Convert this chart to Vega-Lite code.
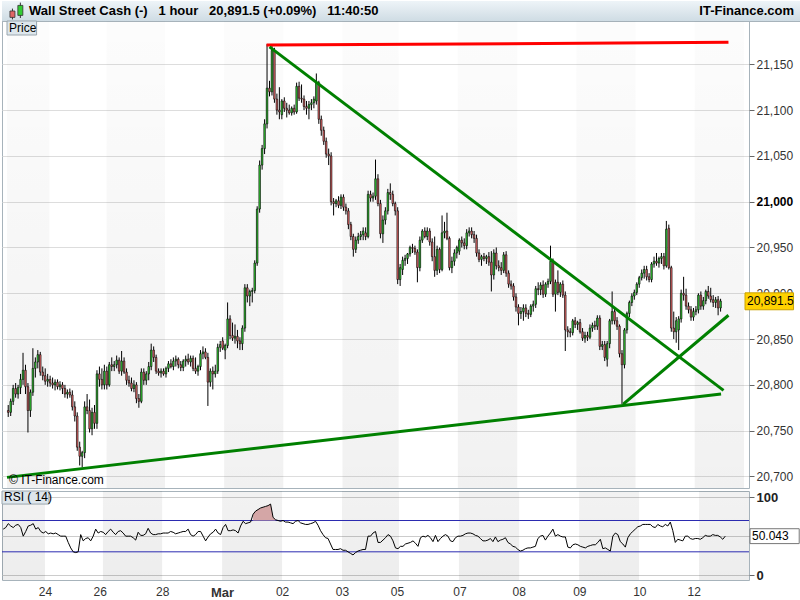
{
"$schema": "https://vega.github.io/schema/vega-lite/v6.json",
"padding": 0,
"background": "#ffffff",
"spacing": 0,
"bounds": "flush",
"config": {
 "font": "Liberation Sans",
 "view": {"stroke": "#a7b3bb", "strokeWidth": 1},
 "axis": {"labelFont": "Liberation Sans", "labelFontSize": 12, "labelColor": "#333333", "domain": false, "tickColor": "#666666", "gridColor": "#dddddd", "title": null}
},
"datasets": {
 "bands": [
  {"s": -0.5, "e": 16.7}, {"s": 39.9, "e": 63.6}, {"s": 87.6, "e": 111.6}, {"s": 135.6, "e": 158.4},
  {"s": 182.4, "e": 206.5}, {"s": 230.5, "e": 254.5}, {"s": 278.5, "e": 298.5}
 ],
 "lines": [
  {"k": "r", "a": 104.8, "pa": 21171, "b": 292.2, "pb": 21174},
  {"k": "g", "a": 106, "pa": 21169, "b": 290.2, "pb": 20794},
  {"k": "g", "a": -0.5, "pa": 20699, "b": 289.2, "pb": 20790},
  {"k": "g", "a": 249.5, "pa": 20779, "b": 292.2, "pb": 20876}
 ],
 "icon": [
  {"x": 0.0069, "lo": 0.08, "hi": 0.62, "bo": 0.18, "bc": 0.5, "up": false},
  {"x": 0.0169, "lo": 0.15, "hi": 0.92, "bo": 0.28, "bc": 0.78, "up": true}
 ],
 "k": [
{"i":0,"o":20772,"h":20778,"l":20765,"c":20770,"r":59},
{"i":1,"o":20770,"h":20785,"l":20766,"c":20782,"r":61},
{"i":2,"o":20782,"h":20800,"l":20778,"c":20796,"r":66},
{"i":3,"o":20796,"h":20802,"l":20786,"c":20790,"r":63},
{"i":4,"o":20790,"h":20800,"l":20785,"c":20797,"r":61},
{"i":5,"o":20797,"h":20812,"l":20790,"c":20806,"r":64},
{"i":6,"o":20806,"h":20835,"l":20800,"c":20816,"r":65},
{"i":7,"o":20816,"h":20822,"l":20790,"c":20798,"r":61},
{"i":8,"o":20798,"h":20802,"l":20748,"c":20772,"r":50},
{"i":9,"o":20772,"h":20795,"l":20765,"c":20792,"r":56},
{"i":10,"o":20792,"h":20840,"l":20788,"c":20818,"r":63},
{"i":11,"o":20818,"h":20830,"l":20808,"c":20825,"r":64},
{"i":12,"o":20825,"h":20838,"l":20818,"c":20833,"r":66},
{"i":13,"o":20833,"h":20836,"l":20810,"c":20814,"r":59},
{"i":14,"o":20814,"h":20820,"l":20805,"c":20810,"r":61},
{"i":15,"o":20810,"h":20818,"l":20800,"c":20804,"r":56},
{"i":16,"o":20804,"h":20812,"l":20798,"c":20806,"r":54},
{"i":17,"o":20806,"h":20810,"l":20798,"c":20802,"r":56},
{"i":18,"o":20802,"h":20808,"l":20796,"c":20800,"r":53},
{"i":19,"o":20800,"h":20806,"l":20794,"c":20803,"r":54},
{"i":20,"o":20803,"h":20806,"l":20795,"c":20798,"r":53},
{"i":21,"o":20798,"h":20804,"l":20794,"c":20800,"r":54},
{"i":22,"o":20800,"h":20803,"l":20790,"c":20796,"r":52},
{"i":23,"o":20796,"h":20800,"l":20786,"c":20790,"r":50},
{"i":24,"o":20790,"h":20795,"l":20785,"c":20792,"r":50},
{"i":25,"o":20792,"h":20796,"l":20786,"c":20789,"r":50},
{"i":26,"o":20789,"h":20794,"l":20772,"c":20776,"r":42},
{"i":27,"o":20776,"h":20782,"l":20760,"c":20766,"r":35},
{"i":28,"o":20766,"h":20770,"l":20728,"c":20732,"r":30},
{"i":29,"o":20732,"h":20738,"l":20712,"c":20722,"r":29},
{"i":30,"o":20722,"h":20728,"l":20710,"c":20726,"r":30},
{"i":31,"o":20726,"h":20782,"l":20720,"c":20776,"r":52},
{"i":32,"o":20776,"h":20790,"l":20768,"c":20772,"r":44},
{"i":33,"o":20772,"h":20784,"l":20748,"c":20752,"r":47},
{"i":34,"o":20752,"h":20775,"l":20745,"c":20770,"r":48},
{"i":35,"o":20770,"h":20778,"l":20752,"c":20758,"r":44},
{"i":36,"o":20758,"h":20816,"l":20752,"c":20812,"r":50},
{"i":37,"o":20812,"h":20820,"l":20798,"c":20806,"r":59},
{"i":38,"o":20806,"h":20818,"l":20795,"c":20800,"r":54},
{"i":39,"o":20800,"h":20822,"l":20795,"c":20815,"r":56},
{"i":40,"o":20815,"h":20820,"l":20795,"c":20800,"r":55},
{"i":41,"o":20800,"h":20825,"l":20798,"c":20822,"r":52},
{"i":42,"o":20822,"h":20830,"l":20815,"c":20820,"r":56},
{"i":43,"o":20820,"h":20826,"l":20815,"c":20822,"r":59},
{"i":44,"o":20822,"h":20832,"l":20818,"c":20827,"r":55},
{"i":45,"o":20827,"h":20830,"l":20812,"c":20815,"r":52},
{"i":46,"o":20815,"h":20837,"l":20810,"c":20826,"r":56},
{"i":47,"o":20826,"h":20830,"l":20812,"c":20814,"r":57},
{"i":48,"o":20814,"h":20818,"l":20800,"c":20805,"r":54},
{"i":49,"o":20805,"h":20810,"l":20798,"c":20802,"r":50},
{"i":50,"o":20802,"h":20808,"l":20793,"c":20796,"r":50},
{"i":51,"o":20796,"h":20805,"l":20792,"c":20800,"r":50},
{"i":52,"o":20800,"h":20803,"l":20780,"c":20785,"r":48},
{"i":53,"o":20785,"h":20790,"l":20775,"c":20782,"r":45},
{"i":54,"o":20782,"h":20818,"l":20780,"c":20814,"r":55},
{"i":55,"o":20814,"h":20818,"l":20800,"c":20805,"r":51},
{"i":56,"o":20805,"h":20815,"l":20800,"c":20812,"r":51},
{"i":57,"o":20812,"h":20825,"l":20805,"c":20820,"r":53},
{"i":58,"o":20820,"h":20845,"l":20816,"c":20838,"r":60},
{"i":59,"o":20838,"h":20842,"l":20825,"c":20830,"r":54},
{"i":60,"o":20830,"h":20833,"l":20812,"c":20815,"r":52},
{"i":61,"o":20815,"h":20818,"l":20810,"c":20813,"r":52},
{"i":62,"o":20813,"h":20818,"l":20808,"c":20815,"r":53},
{"i":63,"o":20815,"h":20818,"l":20810,"c":20812,"r":53},
{"i":64,"o":20812,"h":20820,"l":20808,"c":20818,"r":54},
{"i":65,"o":20818,"h":20826,"l":20814,"c":20823,"r":54},
{"i":66,"o":20823,"h":20828,"l":20818,"c":20820,"r":54},
{"i":67,"o":20820,"h":20830,"l":20816,"c":20826,"r":56},
{"i":68,"o":20826,"h":20832,"l":20820,"c":20828,"r":55},
{"i":69,"o":20828,"h":20830,"l":20818,"c":20822,"r":53},
{"i":70,"o":20822,"h":20826,"l":20815,"c":20819,"r":54},
{"i":71,"o":20819,"h":20828,"l":20815,"c":20826,"r":55},
{"i":72,"o":20826,"h":20832,"l":20820,"c":20828,"r":56},
{"i":73,"o":20828,"h":20834,"l":20822,"c":20825,"r":56},
{"i":74,"o":20825,"h":20832,"l":20820,"c":20829,"r":59},
{"i":75,"o":20829,"h":20832,"l":20815,"c":20818,"r":52},
{"i":76,"o":20818,"h":20830,"l":20812,"c":20815,"r":50},
{"i":77,"o":20815,"h":20822,"l":20810,"c":20820,"r":52},
{"i":78,"o":20820,"h":20838,"l":20816,"c":20834,"r":56},
{"i":79,"o":20834,"h":20842,"l":20828,"c":20836,"r":56},
{"i":80,"o":20836,"h":20840,"l":20828,"c":20830,"r":50},
{"i":81,"o":20830,"h":20835,"l":20777,"c":20803,"r":44},
{"i":82,"o":20803,"h":20818,"l":20798,"c":20815,"r":49},
{"i":83,"o":20815,"h":20820,"l":20795,"c":20812,"r":53},
{"i":84,"o":20812,"h":20822,"l":20808,"c":20815,"r":55},
{"i":85,"o":20815,"h":20845,"l":20812,"c":20841,"r":59},
{"i":86,"o":20841,"h":20848,"l":20836,"c":20844,"r":54},
{"i":87,"o":20848,"h":20852,"l":20838,"c":20840,"r":52},
{"i":88,"o":20838,"h":20845,"l":20828,"c":20843,"r":61},
{"i":89,"o":20843,"h":20890,"l":20840,"c":20872,"r":65},
{"i":90,"o":20872,"h":20876,"l":20850,"c":20854,"r":57},
{"i":91,"o":20854,"h":20868,"l":20848,"c":20851,"r":57},
{"i":92,"o":20851,"h":20866,"l":20845,"c":20853,"r":58},
{"i":93,"o":20853,"h":20860,"l":20840,"c":20848,"r":57},
{"i":94,"o":20848,"h":20852,"l":20838,"c":20845,"r":54},
{"i":95,"o":20845,"h":20865,"l":20838,"c":20862,"r":63},
{"i":96,"o":20862,"h":20910,"l":20858,"c":20906,"r":69},
{"i":97,"o":20906,"h":20910,"l":20890,"c":20897,"r":66},
{"i":98,"o":20897,"h":20904,"l":20886,"c":20902,"r":67},
{"i":99,"o":20902,"h":20906,"l":20890,"c":20903,"r":68},
{"i":100,"o":20903,"h":20936,"l":20900,"c":20933,"r":78},
{"i":101,"o":20933,"h":20995,"l":20930,"c":20992,"r":82},
{"i":102,"o":20992,"h":21045,"l":20988,"c":21040,"r":84},
{"i":103,"o":21040,"h":21062,"l":21035,"c":21058,"r":86},
{"i":104,"o":21058,"h":21090,"l":21052,"c":21085,"r":87},
{"i":105,"o":21085,"h":21172,"l":21080,"c":21124,"r":88},
{"i":106,"o":21124,"h":21132,"l":21115,"c":21120,"r":89},
{"i":107,"o":21120,"h":21170,"l":21116,"c":21165,"r":91},
{"i":108,"o":21165,"h":21168,"l":21108,"c":21112,"r":74},
{"i":109,"o":21112,"h":21118,"l":21095,"c":21100,"r":71},
{"i":110,"o":21100,"h":21125,"l":21090,"c":21098,"r":70},
{"i":111,"o":21095,"h":21112,"l":21090,"c":21110,"r":69},
{"i":112,"o":21110,"h":21114,"l":21098,"c":21102,"r":70},
{"i":113,"o":21102,"h":21108,"l":21092,"c":21100,"r":68},
{"i":114,"o":21100,"h":21106,"l":21095,"c":21097,"r":68},
{"i":115,"o":21097,"h":21104,"l":21094,"c":21102,"r":67},
{"i":116,"o":21102,"h":21106,"l":21095,"c":21098,"r":66},
{"i":117,"o":21098,"h":21130,"l":21096,"c":21126,"r":69},
{"i":118,"o":21126,"h":21131,"l":21110,"c":21113,"r":70},
{"i":119,"o":21113,"h":21128,"l":21108,"c":21112,"r":67},
{"i":120,"o":21112,"h":21116,"l":21100,"c":21104,"r":66},
{"i":121,"o":21104,"h":21110,"l":21095,"c":21102,"r":65},
{"i":122,"o":21102,"h":21110,"l":21090,"c":21106,"r":65},
{"i":123,"o":21106,"h":21112,"l":21100,"c":21108,"r":66},
{"i":124,"o":21108,"h":21115,"l":21102,"c":21112,"r":67},
{"i":125,"o":21110,"h":21140,"l":21106,"c":21130,"r":69},
{"i":126,"o":21130,"h":21132,"l":21085,"c":21090,"r":64},
{"i":127,"o":21090,"h":21094,"l":21072,"c":21078,"r":57},
{"i":128,"o":21078,"h":21082,"l":21062,"c":21066,"r":52},
{"i":129,"o":21066,"h":21070,"l":21048,"c":21052,"r":48},
{"i":130,"o":21052,"h":21058,"l":21040,"c":21050,"r":47},
{"i":131,"o":21050,"h":21054,"l":20996,"c":21000,"r":40},
{"i":132,"o":21000,"h":21004,"l":20985,"c":20998,"r":33},
{"i":133,"o":20998,"h":21003,"l":20994,"c":21001,"r":33},
{"i":134,"o":21001,"h":21006,"l":20993,"c":20996,"r":33},
{"i":135,"o":20996,"h":21008,"l":20992,"c":21005,"r":34},
{"i":136,"o":21005,"h":21008,"l":20990,"c":20994,"r":32},
{"i":137,"o":20994,"h":20998,"l":20986,"c":20990,"r":32},
{"i":138,"o":20990,"h":20993,"l":20970,"c":20975,"r":30},
{"i":139,"o":20975,"h":20978,"l":20958,"c":20962,"r":28},
{"i":140,"o":20962,"h":20965,"l":20940,"c":20948,"r":26},
{"i":141,"o":20948,"h":20962,"l":20944,"c":20958,"r":29},
{"i":142,"o":20958,"h":20966,"l":20954,"c":20962,"r":31},
{"i":143,"o":20962,"h":20968,"l":20958,"c":20964,"r":32},
{"i":144,"o":20964,"h":20972,"l":20958,"c":20968,"r":33},
{"i":145,"o":20966,"h":20972,"l":20958,"c":20962,"r":33},
{"i":146,"o":20962,"h":21012,"l":20960,"c":21008,"r":50},
{"i":147,"o":21008,"h":21012,"l":21000,"c":21004,"r":50},
{"i":148,"o":21004,"h":21010,"l":21000,"c":21006,"r":54},
{"i":149,"o":21006,"h":21046,"l":21002,"c":21025,"r":56},
{"i":150,"o":21025,"h":21030,"l":20995,"c":20998,"r":42},
{"i":151,"o":20998,"h":21002,"l":20960,"c":20965,"r":42},
{"i":152,"o":20965,"h":20985,"l":20955,"c":20980,"r":45},
{"i":153,"o":20980,"h":20994,"l":20975,"c":20990,"r":48},
{"i":154,"o":20990,"h":21014,"l":20986,"c":21010,"r":52},
{"i":155,"o":21010,"h":21020,"l":21002,"c":21008,"r":50},
{"i":156,"o":21008,"h":21012,"l":20995,"c":20998,"r":44},
{"i":157,"o":20998,"h":21000,"l":20985,"c":20990,"r":35},
{"i":158,"o":20990,"h":20994,"l":20910,"c":20915,"r":34},
{"i":159,"o":20915,"h":20932,"l":20908,"c":20928,"r":37},
{"i":160,"o":20926,"h":20940,"l":20920,"c":20936,"r":37},
{"i":161,"o":20936,"h":20942,"l":20930,"c":20938,"r":40},
{"i":162,"o":20938,"h":20944,"l":20932,"c":20943,"r":41},
{"i":163,"o":20943,"h":20952,"l":20940,"c":20950,"r":42},
{"i":164,"o":20950,"h":20954,"l":20944,"c":20949,"r":44},
{"i":165,"o":20949,"h":20952,"l":20942,"c":20945,"r":41},
{"i":166,"o":20945,"h":20948,"l":20912,"c":20928,"r":37},
{"i":167,"o":20928,"h":20962,"l":20924,"c":20958,"r":48},
{"i":168,"o":20958,"h":20970,"l":20955,"c":20968,"r":50},
{"i":169,"o":20968,"h":20972,"l":20960,"c":20962,"r":49},
{"i":170,"o":20962,"h":20972,"l":20958,"c":20968,"r":51},
{"i":171,"o":20968,"h":20971,"l":20952,"c":20956,"r":48},
{"i":172,"o":20956,"h":20960,"l":20935,"c":20940,"r":43},
{"i":173,"o":20940,"h":20962,"l":20918,"c":20925,"r":51},
{"i":174,"o":20925,"h":20952,"l":20920,"c":20948,"r":43},
{"i":175,"o":20948,"h":20950,"l":20922,"c":20926,"r":47},
{"i":176,"o":20926,"h":20985,"l":20924,"c":20966,"r":50},
{"i":177,"o":20966,"h":20978,"l":20960,"c":20968,"r":52},
{"i":178,"o":20968,"h":20988,"l":20958,"c":20960,"r":50},
{"i":179,"o":20960,"h":20962,"l":20925,"c":20928,"r":44},
{"i":180,"o":20928,"h":20940,"l":20922,"c":20935,"r":43},
{"i":181,"o":20935,"h":20948,"l":20930,"c":20944,"r":48},
{"i":182,"o":20944,"h":20952,"l":20938,"c":20950,"r":50},
{"i":183,"o":20946,"h":20960,"l":20942,"c":20958,"r":50},
{"i":184,"o":20958,"h":20962,"l":20950,"c":20955,"r":51},
{"i":185,"o":20955,"h":20960,"l":20948,"c":20952,"r":53},
{"i":186,"o":20952,"h":20970,"l":20948,"c":20966,"r":54},
{"i":187,"o":20966,"h":20972,"l":20962,"c":20968,"r":54},
{"i":188,"o":20968,"h":20972,"l":20960,"c":20964,"r":53},
{"i":189,"o":20964,"h":20968,"l":20955,"c":20960,"r":51},
{"i":190,"o":20960,"h":20964,"l":20940,"c":20944,"r":50},
{"i":191,"o":20944,"h":20948,"l":20934,"c":20937,"r":47},
{"i":192,"o":20937,"h":20942,"l":20930,"c":20940,"r":44},
{"i":193,"o":20940,"h":20944,"l":20935,"c":20938,"r":44},
{"i":194,"o":20938,"h":20942,"l":20932,"c":20940,"r":45},
{"i":195,"o":20940,"h":20945,"l":20930,"c":20934,"r":47},
{"i":196,"o":20934,"h":20946,"l":20902,"c":20920,"r":43},
{"i":197,"o":20920,"h":20948,"l":20915,"c":20944,"r":49},
{"i":198,"o":20944,"h":20950,"l":20926,"c":20930,"r":43},
{"i":199,"o":20930,"h":20936,"l":20924,"c":20928,"r":45},
{"i":200,"o":20928,"h":20934,"l":20920,"c":20925,"r":46},
{"i":201,"o":20925,"h":20945,"l":20922,"c":20942,"r":48},
{"i":202,"o":20942,"h":20946,"l":20918,"c":20922,"r":42},
{"i":203,"o":20922,"h":20925,"l":20906,"c":20910,"r":40},
{"i":204,"o":20910,"h":20914,"l":20904,"c":20908,"r":37},
{"i":205,"o":20908,"h":20911,"l":20892,"c":20896,"r":36},
{"i":206,"o":20896,"h":20900,"l":20880,"c":20885,"r":33},
{"i":207,"o":20885,"h":20888,"l":20865,"c":20878,"r":31},
{"i":208,"o":20878,"h":20885,"l":20872,"c":20880,"r":32},
{"i":209,"o":20880,"h":20888,"l":20870,"c":20884,"r":34},
{"i":210,"o":20884,"h":20888,"l":20874,"c":20878,"r":35},
{"i":211,"o":20878,"h":20882,"l":20872,"c":20877,"r":35},
{"i":212,"o":20877,"h":20888,"l":20874,"c":20886,"r":36},
{"i":213,"o":20886,"h":20892,"l":20880,"c":20888,"r":37},
{"i":214,"o":20888,"h":20908,"l":20884,"c":20905,"r":47},
{"i":215,"o":20905,"h":20912,"l":20898,"c":20904,"r":50},
{"i":216,"o":20904,"h":20912,"l":20898,"c":20909,"r":51},
{"i":217,"o":20909,"h":20914,"l":20895,"c":20899,"r":45},
{"i":218,"o":20899,"h":20912,"l":20896,"c":20910,"r":50},
{"i":219,"o":20910,"h":20916,"l":20906,"c":20913,"r":54},
{"i":220,"o":20913,"h":20952,"l":20910,"c":20935,"r":59},
{"i":221,"o":20935,"h":20938,"l":20896,"c":20899,"r":50},
{"i":222,"o":20899,"h":20915,"l":20880,"c":20912,"r":52},
{"i":223,"o":20912,"h":20925,"l":20898,"c":20901,"r":50},
{"i":224,"o":20901,"h":20912,"l":20896,"c":20910,"r":49},
{"i":225,"o":20910,"h":20914,"l":20895,"c":20898,"r":49},
{"i":226,"o":20898,"h":20902,"l":20837,"c":20860,"r":36},
{"i":227,"o":20860,"h":20864,"l":20852,"c":20858,"r":35},
{"i":228,"o":20858,"h":20862,"l":20852,"c":20857,"r":39},
{"i":229,"o":20857,"h":20872,"l":20854,"c":20870,"r":40},
{"i":230,"o":20870,"h":20874,"l":20862,"c":20866,"r":39},
{"i":231,"o":20866,"h":20870,"l":20860,"c":20868,"r":37},
{"i":232,"o":20868,"h":20872,"l":20856,"c":20858,"r":36},
{"i":233,"o":20858,"h":20862,"l":20848,"c":20851,"r":35},
{"i":234,"o":20851,"h":20858,"l":20846,"c":20854,"r":37},
{"i":235,"o":20854,"h":20858,"l":20848,"c":20852,"r":38},
{"i":236,"o":20852,"h":20866,"l":20850,"c":20862,"r":39},
{"i":237,"o":20862,"h":20868,"l":20858,"c":20865,"r":39},
{"i":238,"o":20865,"h":20870,"l":20860,"c":20864,"r":42},
{"i":239,"o":20864,"h":20876,"l":20860,"c":20873,"r":46},
{"i":240,"o":20873,"h":20876,"l":20838,"c":20842,"r":34},
{"i":241,"o":20842,"h":20848,"l":20838,"c":20844,"r":35},
{"i":242,"o":20844,"h":20848,"l":20826,"c":20830,"r":33},
{"i":243,"o":20828,"h":20848,"l":20820,"c":20845,"r":31},
{"i":244,"o":20845,"h":20872,"l":20840,"c":20870,"r":50},
{"i":245,"o":20870,"h":20902,"l":20866,"c":20880,"r":54},
{"i":246,"o":20880,"h":20884,"l":20866,"c":20870,"r":52},
{"i":247,"o":20870,"h":20874,"l":20860,"c":20864,"r":43},
{"i":248,"o":20864,"h":20866,"l":20830,"c":20834,"r":40},
{"i":249,"o":20834,"h":20838,"l":20779,"c":20822,"r":36},
{"i":250,"o":20822,"h":20862,"l":20818,"c":20860,"r":48},
{"i":251,"o":20860,"h":20880,"l":20856,"c":20878,"r":53},
{"i":252,"o":20878,"h":20892,"l":20874,"c":20890,"r":56},
{"i":253,"o":20890,"h":20900,"l":20886,"c":20897,"r":59},
{"i":254,"o":20897,"h":20904,"l":20893,"c":20901,"r":62},
{"i":255,"o":20901,"h":20912,"l":20898,"c":20910,"r":63},
{"i":256,"o":20910,"h":20919,"l":20906,"c":20917,"r":65},
{"i":257,"o":20917,"h":20926,"l":20914,"c":20922,"r":65},
{"i":258,"o":20922,"h":20930,"l":20916,"c":20926,"r":65},
{"i":259,"o":20926,"h":20930,"l":20914,"c":20918,"r":65},
{"i":260,"o":20918,"h":20922,"l":20912,"c":20915,"r":62},
{"i":261,"o":20915,"h":20934,"l":20912,"c":20932,"r":61},
{"i":262,"o":20932,"h":20940,"l":20928,"c":20935,"r":65},
{"i":263,"o":20935,"h":20944,"l":20930,"c":20933,"r":63},
{"i":264,"o":20933,"h":20940,"l":20928,"c":20938,"r":62},
{"i":265,"o":20938,"h":20944,"l":20932,"c":20940,"r":65},
{"i":266,"o":20940,"h":20944,"l":20926,"c":20930,"r":63},
{"i":267,"o":20930,"h":20979,"l":20928,"c":20970,"r":68},
{"i":268,"o":20971,"h":20975,"l":20926,"c":20928,"r":57},
{"i":269,"o":20928,"h":20930,"l":20858,"c":20862,"r":42},
{"i":270,"o":20862,"h":20880,"l":20850,"c":20858,"r":46},
{"i":271,"o":20858,"h":20874,"l":20846,"c":20870,"r":45},
{"i":272,"o":20860,"h":20875,"l":20838,"c":20872,"r":44},
{"i":273,"o":20872,"h":20904,"l":20868,"c":20900,"r":50},
{"i":274,"o":20900,"h":20918,"l":20892,"c":20898,"r":50},
{"i":275,"o":20898,"h":20905,"l":20882,"c":20886,"r":47},
{"i":276,"o":20886,"h":20890,"l":20878,"c":20882,"r":46},
{"i":277,"o":20882,"h":20886,"l":20870,"c":20874,"r":47},
{"i":278,"o":20874,"h":20884,"l":20870,"c":20880,"r":47},
{"i":279,"o":20880,"h":20886,"l":20876,"c":20882,"r":46},
{"i":280,"o":20882,"h":20900,"l":20878,"c":20898,"r":48},
{"i":281,"o":20898,"h":20902,"l":20882,"c":20886,"r":51},
{"i":282,"o":20886,"h":20896,"l":20882,"c":20892,"r":50},
{"i":283,"o":20892,"h":20904,"l":20888,"c":20902,"r":50},
{"i":284,"o":20902,"h":20908,"l":20894,"c":20897,"r":52},
{"i":285,"o":20897,"h":20906,"l":20890,"c":20893,"r":51},
{"i":286,"o":20893,"h":20898,"l":20885,"c":20890,"r":51},
{"i":287,"o":20890,"h":20896,"l":20884,"c":20893,"r":49},
{"i":288,"o":20893,"h":20897,"l":20876,"c":20884,"r":46},
{"i":289,"o":20884,"h":20894,"l":20880,"c":20891.5,"r":50}
 ]
},
"vconcat": [
 {
  "width": 800, "height": 20,
  "layer": [
   {"data": {"values": [{}]},
    "mark": {"type": "rect", "color": {"gradient": "linear", "x1": 0, "y1": 0, "x2": 0, "y2": 1, "stops": [{"offset": 0, "color": "#eef4f8"}, {"offset": 1, "color": "#cfdce4"}]}}},
   {"data": {"name": "icon"},
    "mark": {"type": "rule", "color": "#333333", "strokeWidth": 1},
    "encoding": {
     "x": {"field": "x", "type": "quantitative", "scale": {"domain": [0, 1], "nice": false, "zero": false}, "axis": null},
     "y": {"field": "lo", "type": "quantitative", "scale": {"domain": [0, 1], "nice": false, "zero": false}, "axis": null},
     "y2": {"field": "hi"}}},
   {"data": {"name": "icon"},
    "mark": {"type": "bar", "width": 5, "stroke": "#333333", "strokeWidth": 0.8},
    "encoding": {
     "x": {"field": "x", "type": "quantitative"},
     "y": {"field": "bo", "type": "quantitative"},
     "y2": {"field": "bc"},
     "color": {"condition": {"test": "datum.up", "value": "#33cc33"}, "value": "#e06666"}}},
   {"data": {"values": [{}]},
    "mark": {"type": "text", "text": "Wall Street Cash (-)\u00a0\u00a0\u00a01 hour\u00a0\u00a0\u00a020,891.5 (+0.09%)\u00a0\u00a0\u00a011:40:50", "align": "left", "baseline": "middle", "dx": 22, "fontSize": 13, "fontWeight": "bold", "color": "#000000"},
    "encoding": {"x": {"datum": 0, "type": "quantitative"}, "y": {"datum": 0.5, "type": "quantitative"}}},
   {"data": {"values": [{}]},
    "mark": {"type": "text", "text": "IT-Finance.com", "align": "right", "baseline": "middle", "dx": -3, "fontSize": 13, "fontWeight": "bold", "color": "#000000"},
    "encoding": {"x": {"datum": 1, "type": "quantitative"}, "y": {"datum": 0.5, "type": "quantitative"}}}
  ]
 },
 {
  "spacing": 3,
  "bounds": "flush",
  "vconcat": [
   {
    "width": 747, "height": 467,
    "layer": [
     {"data": {"name": "bands"},
      "mark": {"type": "rect", "color": {"gradient": "linear", "x1": 0, "y1": 0, "x2": 0, "y2": 1, "stops": [{"offset": 0, "color": "rgba(0,0,0,0.012)"}, {"offset": 1, "color": "rgba(0,0,0,0.055)"}]}},
      "encoding": {"x": {"field": "s", "type": "quantitative", "scale": {"domain": [-0.5, 298.5], "nice": false, "zero": false}, "axis": null}, "x2": {"field": "e"}}},
     {"data": {"name": "k"},
      "mark": {"type": "rule", "color": "#000000", "strokeWidth": 1},
      "encoding": {
       "x": {"field": "i", "type": "quantitative", "scale": {"domain": [-0.5, 298.5], "nice": false, "zero": false}},
       "y": {"field": "l", "type": "quantitative", "scale": {"domain": [20687.4, 21197.3], "nice": false, "zero": false},
        "axis": {"orient": "right", "values": [20700, 20750, 20800, 20850, 20900, 20950, 21000, 21050, 21100, 21150], "format": ",d", "grid": true, "tickSize": 5, "labelPadding": 2,
         "labelFontWeight": {"condition": {"test": "datum.value == 21000", "value": "bold"}, "value": "normal"},
         "labelColor": {"condition": {"test": "datum.value == 21000", "value": "#000000"}, "value": "#333333"}}},
       "y2": {"field": "h"}}},
     {"data": {"name": "k"},
      "mark": {"type": "bar", "width": 1.6, "stroke": "#000000", "strokeWidth": 0.6},
      "encoding": {
       "x": {"field": "i", "type": "quantitative"},
       "y": {"field": "o", "type": "quantitative"},
       "y2": {"field": "c"},
       "color": {"condition": {"test": "datum.c >= datum.o", "value": "#33cc33"}, "value": "#e06666"}}},
     {"data": {"name": "lines"},
      "mark": {"type": "rule", "strokeWidth": 3},
      "encoding": {
       "x": {"field": "a", "type": "quantitative"},
       "x2": {"field": "b"},
       "y": {"field": "pa", "type": "quantitative"},
       "y2": {"field": "pb"},
       "color": {"field": "k", "type": "nominal", "scale": {"domain": ["r", "g"], "range": ["#ff0000", "#008000"]}, "legend": null}}},
     {"data": {"values": [{}]},
      "mark": {"type": "rect", "color": "#ffd200", "stroke": "#c9a000", "strokeWidth": 1},
      "encoding": {"x": {"datum": 298.9, "type": "quantitative"}, "x2": {"datum": 318.6}, "y": {"datum": 20882, "type": "quantitative"}, "y2": {"datum": 20900.5}}},
     {"data": {"values": [{}]},
      "mark": {"type": "text", "text": "20,891.5", "align": "left", "baseline": "middle", "dx": 2, "fontSize": 12, "color": "#000000"},
      "encoding": {"x": {"datum": 298.9, "type": "quantitative"}, "y": {"datum": 20891.5, "type": "quantitative"}}},
     {"data": {"values": [{}]},
      "mark": {"type": "rect", "color": "#dde6ec", "stroke": "#9aa6ae", "strokeWidth": 1},
      "encoding": {"x": {"datum": -0.5, "type": "quantitative"}, "x2": {"datum": 11.5}, "y": {"datum": 21197.3, "type": "quantitative"}, "y2": {"datum": 21182}}},
     {"data": {"values": [{}]},
      "mark": {"type": "text", "text": "Price", "align": "left", "baseline": "middle", "dx": 2, "fontSize": 12, "color": "#000000"},
      "encoding": {"x": {"datum": -0.5, "type": "quantitative"}, "y": {"datum": 21189.8, "type": "quantitative"}}},
     {"data": {"values": [{}]},
      "mark": {"type": "text", "text": "© IT-Finance.com", "align": "left", "baseline": "bottom", "dx": 2, "dy": -1, "fontSize": 12, "color": "#000000"},
      "encoding": {"x": {"datum": -0.5, "type": "quantitative"}, "y": {"datum": 20687.4, "type": "quantitative"}}}
    ]
   },
   {
    "width": 747, "height": 89,
    "layer": [
     {"data": {"name": "bands"},
      "mark": {"type": "rect", "color": {"gradient": "linear", "x1": 0, "y1": 0, "x2": 0, "y2": 1, "stops": [{"offset": 0, "color": "rgba(0,0,0,0.05)"}, {"offset": 1, "color": "rgba(0,0,0,0.07)"}]}},
      "encoding": {"x": {"field": "s", "type": "quantitative", "scale": {"domain": [-0.5, 298.5], "nice": false, "zero": false},
        "axis": {"orient": "bottom", "values": [16.7, 38.6, 63.6, 87.6, 111.6, 135.6, 157.6, 182.6, 206.3, 230.6, 254.6, 276.4], "grid": false, "tickSize": 0, "labelPadding": 6,
         "labelExpr": "datum.value<20?'24':datum.value<50?'26':datum.value<70?'28':datum.value<100?'Mar':datum.value<120?'02':datum.value<140?'03':datum.value<170?'05':datum.value<190?'07':datum.value<220?'08':datum.value<240?'09':datum.value<265?'10':'12'",
         "labelFontWeight": {"condition": {"test": "datum.value > 80 && datum.value < 100", "value": "bold"}, "value": "normal"},
         "labelFontSize": {"condition": {"test": "datum.value > 80 && datum.value < 100", "value": 13}, "value": 12}}},
       "x2": {"field": "e"}}},
     {"data": {"values": [{}]},
      "mark": {"type": "rule", "color": "#2b2bb0", "strokeWidth": 1},
      "encoding": {"y": {"datum": 70, "type": "quantitative", "scale": {"domain": [-6, 107.7], "nice": false, "zero": false},
        "axis": {"orient": "right", "values": [0, 50, 100], "grid": true, "gridColor": "#cccccc", "tickSize": 5, "labelPadding": 2, "labelExpr": "datum.value == 50 ? '' : datum.label", "labelFontWeight": "bold", "labelFontSize": 13, "labelColor": "#222222"}}}},
     {"data": {"values": [{}]},
      "mark": {"type": "rule", "color": "#2b2bb0", "strokeWidth": 1},
      "encoding": {"y": {"datum": 30, "type": "quantitative"}}},
     {"data": {"name": "k"},
      "transform": [{"filter": "datum.r > 70"}],
      "mark": {"type": "area", "color": "#d4a6a6"},
      "encoding": {"x": {"field": "i", "type": "quantitative"}, "y": {"field": "r", "type": "quantitative"}, "y2": {"datum": 70}}},
     {"data": {"name": "k"},
      "mark": {"type": "line", "color": "#000000", "strokeWidth": 1},
      "encoding": {"x": {"field": "i", "type": "quantitative"}, "y": {"field": "r", "type": "quantitative"}}},
     {"data": {"values": [{}]},
      "mark": {"type": "rect", "color": "#dde6ec", "stroke": "#9aa6ae", "strokeWidth": 1},
      "encoding": {"x": {"datum": -0.5, "type": "quantitative"}, "x2": {"datum": 18.3}, "y": {"datum": 107.7, "type": "quantitative"}, "y2": {"datum": 91}}},
     {"data": {"values": [{}]},
      "mark": {"type": "text", "text": "RSI ( 14)", "align": "left", "baseline": "middle", "dx": 2, "fontSize": 12, "color": "#000000"},
      "encoding": {"x": {"datum": -0.5, "type": "quantitative"}, "y": {"datum": 99.5, "type": "quantitative"}}},
     {"data": {"values": [{}]},
      "mark": {"type": "rect", "color": "#ffffff", "stroke": "#777777", "strokeWidth": 1},
      "encoding": {"x": {"datum": 298.9, "type": "quantitative"}, "x2": {"datum": 318.6}, "y": {"datum": 40.5, "type": "quantitative"}, "y2": {"datum": 59.5}}},
     {"data": {"values": [{}]},
      "mark": {"type": "text", "text": "50.043", "align": "left", "baseline": "middle", "dx": 2, "fontSize": 12, "color": "#000000"},
      "encoding": {"x": {"datum": 298.9, "type": "quantitative"}, "y": {"datum": 50.043, "type": "quantitative"}}}
    ]
   }
  ]
 }
]
}
